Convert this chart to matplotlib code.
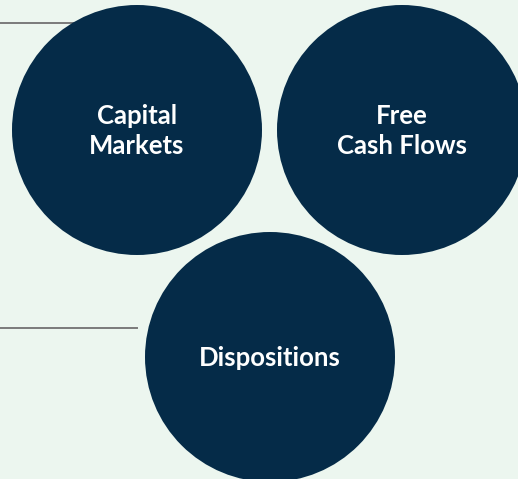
import matplotlib.pyplot as plt
from matplotlib.patches import Circle

# Labels for each bubble
labels = ['Capital\nMarkets', 'Free\nCash Flows', 'Dispositions']

# layout (pixel space, y down)
centers_x = [137, 402, 270]
centers_y = [130, 130, 357]
radius = 125
connector_y = [23, 328]
connector_end = [75, 137]

bg = '#ecf6ef'
navy = '#052b48'

fig = plt.figure(figsize=(5.18, 4.79), dpi=100, facecolor=bg)
ax = fig.add_axes([0, 0, 1, 1])
ax.set_facecolor(bg)
ax.set_xlim(0, 518)
ax.set_ylim(479, 0)
ax.axis('off')

# grey connector lines sit behind the circles
for y, x_end in zip(connector_y, connector_end):
    ax.plot([0, x_end], [y, y], color='#7a7a7a', lw=1.4, zorder=1)

for cx, cy, lab in zip(centers_x, centers_y, labels):
    ax.add_patch(Circle((cx, cy), radius, facecolor=navy, edgecolor='none', zorder=2))
    ax.text(cx, cy + 1, lab, color='white', ha='center', va='center',
            fontsize=18.5, fontweight='bold', family=['Lato', 'DejaVu Sans'],
            linespacing=1.32, zorder=3)

fig.savefig('out.png', dpi=100, facecolor=bg)
